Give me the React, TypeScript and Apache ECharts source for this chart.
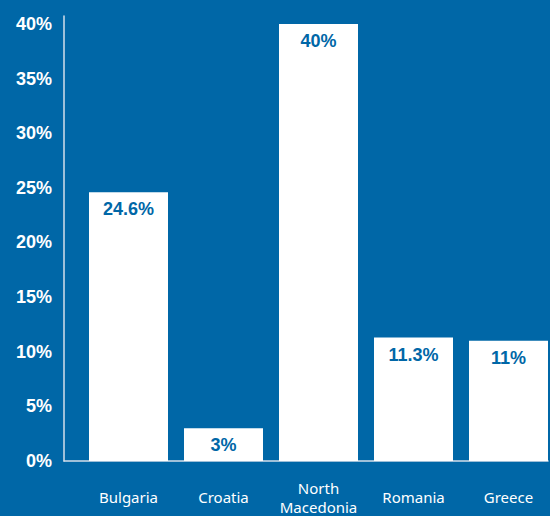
import React, { useEffect, useRef } from "react";
import * as echarts from "echarts";

const categories = ["Bulgaria", "Croatia", "North\nMacedonia", "Romania", "Greece"];
const values = [24.6, 3, 40, 11.3, 11];
const yTicks = [0, 5, 10, 15, 20, 25, 30, 35, 40];

const BG = "#0067a7";

export default function App() {
  const ref = useRef<HTMLDivElement>(null);
  useEffect(() => {
    document.body.style.margin = "0";
    document.body.style.background = BG;
    const chart = echarts.init(ref.current!, null, { renderer: "svg" });
    const yMax = 40.73;
    chart.setOption({
      animation: false,
      backgroundColor: BG,
      grid: [
        { left: 81, width: 475, top: 16, height: 445, containLabel: false, outerBoundsMode: "none" },
        { left: 64, width: 484, top: 16, height: 445, containLabel: false, outerBoundsMode: "none" },
      ],
      xAxis: [
        {
          type: "category",
          gridIndex: 0,
          data: categories,
          axisLine: { show: false },
          axisTick: { show: false },
          axisLabel: {
            color: "#ffffff",
            fontFamily: "Noto Sans",
            fontSize: 15,
            lineHeight: 19,
            margin: 36,
            verticalAlign: "middle",
            interval: 0,
          },
        },
        {
          type: "category",
          gridIndex: 1,
          data: categories,
          axisLine: { show: true, lineStyle: { color: "#d3deea", width: 1.5 } },
          axisTick: { show: false },
          axisLabel: { show: false },
        },
      ],
      yAxis: [
        {
          type: "value",
          gridIndex: 0,
          min: 0,
          max: yMax,
          interval: 5,
          show: false,
          splitLine: { show: false },
        },
        {
          type: "value",
          gridIndex: 1,
          min: 0,
          max: yMax,
          interval: 5,
          axisLine: { show: true, lineStyle: { color: "#d3deea", width: 1.5 } },
          axisTick: { show: false },
          splitLine: { show: false },
          axisLabel: {
            color: "#ffffff",
            fontFamily: "Liberation Sans",
            fontWeight: "bold",
            fontSize: 18,
            margin: 12,
            formatter: (v: number) => (yTicks.includes(v) ? `${v}%` : ""),
          },
        },
      ],
      series: [
        {
          type: "bar",
          xAxisIndex: 0,
          yAxisIndex: 0,
          data: values,
          barWidth: 79,
          itemStyle: { color: "#ffffff" },
          label: {
            show: true,
            position: "insideTop",
            distance: 8,
            color: BG,
            fontFamily: "Liberation Sans",
            fontWeight: "bold",
            fontSize: 18,
            formatter: (p: any) => `${p.value}%`,
          },
        },
      ],
    });
    return () => chart.dispose();
  }, []);
  return <div ref={ref} style={{ width: 550, height: 516 }} />;
}
